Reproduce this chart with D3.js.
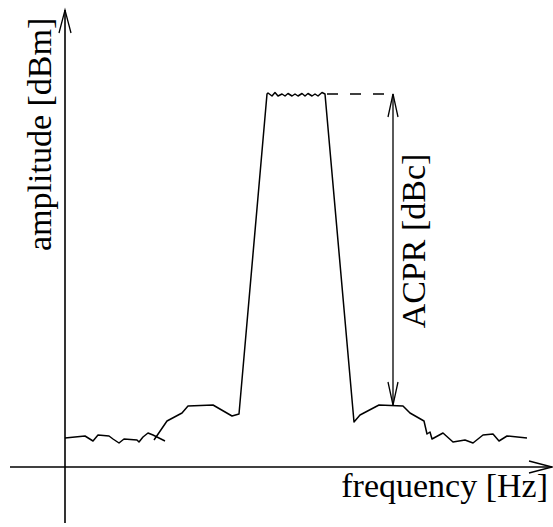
<!DOCTYPE html>
<html><head><meta charset="utf-8">
<script src="https://cdn.jsdelivr.net/npm/d3@7"></script>
<style>body{margin:0;background:#fff}svg{display:block}text{font-family:"Liberation Serif","Times New Roman",serif;font-size:34px;fill:#000}</style>
</head><body><svg id="c" width="553" height="527"></svg>
<script>
// frequency (arbitrary units) and amplitude (dB relative to channel power)
const freqLeft  = [0, 4, 5.6, 6.6, 8.8, 9.6, 10.8, 11.8, 14.4, 14.8, 15.6, 16.6, 17.6, 20];
const ampLeft   = [-68.8, -68.4, -69.4, -68.2, -68.4, -69, -69.8, -69, -69.2, -69.6, -68.6, -67.8, -68.2, -69.4];
const freqMain  = [17.8, 20.4, 23.4, 24.6, 29.6, 33.4, 34.8, 40.4, 40.6, 41.4, 42, 42.6, 43.4, 44, 44.6, 45.4, 46, 46.6, 47.4, 48, 48.6, 49.4, 50, 50.6, 51.4, 52, 57.8, 59, 62.8, 67.6, 69, 71.8, 72.4, 73, 73.4, 75.6, 77.6, 80, 81.6, 83.6, 85.6, 86.8, 88.4, 92.4];
const ampMain   = [-69.2, -65.4, -63.8, -62.4, -62.2, -64.4, -64, 0, 0.2, -0.4, 0.3, -0.4, 0, -0.4, 0.1, -0.4, 0, -0.4, 0.1, -0.4, 0.1, -0.4, 0, -0.4, 0.3, 0, -65.6, -64.2, -62.2, -62.4, -63.8, -65.4, -68, -67.6, -69, -67.8, -69.6, -69.2, -69.8, -68.2, -68, -69.4, -68.4, -68.8];
const acprFreq = 65.6, acprTop = 0, acprBottom = -62.2, dashStart = 52.4;
const labels = {x: "frequency [Hz]", y: "amplitude [dBm]", acpr: "ACPR [dBc]"};

const svg = d3.select("#c");
const x = d3.scaleLinear().domain([0, 97.4]).range([65, 552]);
const y = d3.scaleLinear().domain([-74.6, 0]).range([467, 94]);
const xMinF = -11, yMinA = -85.8, yMaxA = 16.8;

const g = svg.append("g").attr("fill", "none").attr("stroke", "#000");

// axes
g.append("line").attr("x1", x(xMinF)).attr("x2", x(97.4)).attr("y1", y(-74.6)).attr("y2", y(-74.6)).attr("stroke-width", 1.6);
g.append("line").attr("x1", x(0)).attr("x2", x(0)).attr("y1", y(yMinA)).attr("y2", y(yMaxA)).attr("stroke-width", 1.6);

function arrowHead(tx, ty, dx, dy, len, hw) {
  // open V head pointing in direction (dx,dy)
  const px = -dy, py = dx;
  const bx = tx - dx * len, by = ty - dy * len;
  g.append("path").attr("d", `M${bx + px*hw},${by + py*hw}L${tx},${ty}L${bx - px*hw},${by - py*hw}`)
    .attr("stroke-width", 1.3).attr("stroke-linejoin", "miter");
}
arrowHead(x(0), y(yMaxA), 0, -1, 23, 6);
arrowHead(x(97.4), y(-74.6), 1, 0, 23, 6);

// spectrum
const line = d3.line().x(d => x(d[0])).y(d => y(d[1]));
g.append("path").attr("d", line(d3.zip(freqLeft, ampLeft))).attr("stroke-width", 1.5).attr("stroke-linejoin", "round");
g.append("path").attr("d", line(d3.zip(freqMain, ampMain))).attr("stroke-width", 1.5).attr("stroke-linejoin", "round");

// dashed reference
g.append("line").attr("x1", x(dashStart)).attr("x2", x(acprFreq)).attr("y1", y(acprTop)).attr("y2", y(acprTop))
  .attr("stroke-width", 1.4).attr("stroke-dasharray", "11,12");

// ACPR double arrow
g.append("line").attr("x1", x(acprFreq)).attr("x2", x(acprFreq)).attr("y1", y(acprTop)).attr("y2", y(acprBottom)).attr("stroke-width", 1.3);
arrowHead(x(acprFreq), y(acprTop), 0, -1, 23, 5);
arrowHead(x(acprFreq), y(acprBottom), 0, 1, 23, 5);

// labels
svg.append("text").attr("x", 548).attr("y", 497).attr("text-anchor", "end").text(labels.x);
svg.append("text").attr("transform", "translate(51,251) rotate(-90)").attr("text-anchor", "start").text(labels.y);
svg.append("text").attr("transform", `translate(425,241) rotate(-90)`).attr("text-anchor", "middle").text(labels.acpr);
</script></body></html>
